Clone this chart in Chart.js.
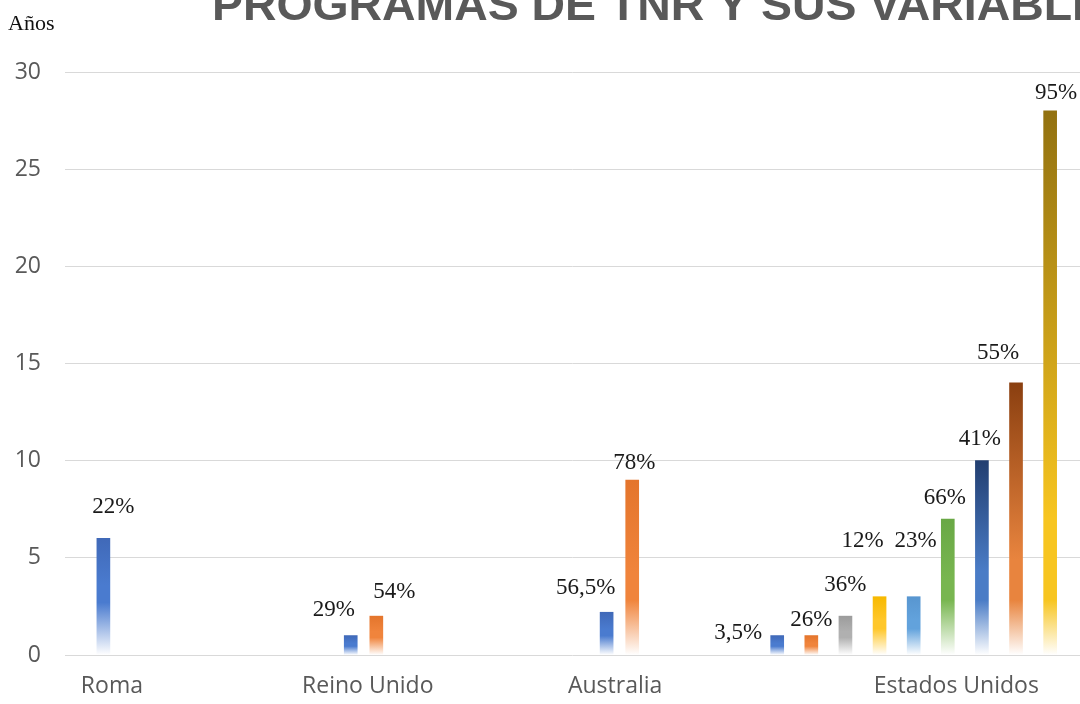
<!DOCTYPE html>
<html><head><meta charset="utf-8">
<script src="https://cdn.jsdelivr.net/npm/chart.js@4.4.0/dist/chart.umd.min.js"></script>
<style>html,body{margin:0;padding:0;background:#fff;overflow:hidden}#wrap{width:1080px;height:704px;position:relative}</style>
</head><body><div id="wrap"><canvas id="c" width="1080" height="704"></canvas></div>
<script>
// ---------- data ----------
const categories = ['Roma', 'Reino Unido', 'Australia', 'Estados Unidos'];
const romaYears = [6];
const romaPct = ['22%'];
const ukYears = [1, 2];
const ukPct = ['29%', '54%'];
const ausYears = [2.2, 9];
const ausPct = ['56,5%', '78%'];
const usYears = [1, 1, 2, 3, 3, 7, 10, 14, 28];
const usPct = ['3,5%', '26%', '36%', '12%', '23%', '66%', '41%', '55%', '95%'];
const yTicks = [0, 5, 10, 15, 20, 25, 30];
const yAxisTitle = 'Años';
const chartTitle = 'PROGRAMAS DE TNR Y SUS VARIABLES';

// ---------- styles / layout ----------
const seriesTop = ['#4069b8', '#e4752c', '#9c9c9c', '#f7b900', '#5896d0', '#69a845', '#223e70', '#8a3f10', '#927110'];
const seriesMid = ['#4a7bcf', '#f0843c', '#b0b0b0', '#ffc72a', '#62a2dc', '#78b650', '#4a7cc6', '#e8843e', '#f7c520'];
const slotCount = 119;
const groupLayout = [
  { first: 4, step: 3, label: 5 },
  { first: 33, step: 3, label: 35 },
  { first: 63, step: 3, label: 64 },
  { first: 83, step: 4, label: 104 }
];
const labelOffsets = [
  [[10, -31]],
  [[-17, -26], [18, -24]],
  [[-21, -24], [2, -17]],
  [[-39, -3], [0, -16], [0, -31], [-17, -56], [2, -56], [-3, -21], [-2, -22], [-18, -30], [6, -18]]
];

// ---------- build slots ----------
const groups = [
  { years: romaYears, pct: romaPct },
  { years: ukYears, pct: ukPct },
  { years: ausYears, pct: ausPct },
  { years: usYears, pct: usPct }
];
const slotLabels = new Array(slotCount).fill('');
const slotValues = new Array(slotCount).fill(null);
const slotSeries = new Array(slotCount).fill(0);
const slotPct = new Array(slotCount).fill('');
const slotOffset = new Array(slotCount).fill(null);
groups.forEach((g, gi) => {
  const lay = groupLayout[gi];
  slotLabels[lay.label] = categories[gi];
  g.years.forEach((v, i) => {
    const s = lay.first + i * lay.step;
    slotValues[s] = v;
    slotSeries[s] = i;
    slotPct[s] = g.pct[i];
    slotOffset[s] = labelOffsets[gi][i];
  });
});

function barGradient(ctx) {
  const chart = ctx.chart;
  const i = ctx.dataIndex;
  const si = slotSeries[i] || 0;
  const y = chart.scales.y;
  if (!y || slotValues[i] == null) return seriesTop[si];
  const top = y.getPixelForValue(slotValues[i]);
  const bot = y.getPixelForValue(0);
  const h = bot - top;
  if (!isFinite(top) || !isFinite(bot) || h < 1) return seriesTop[si];
  const fadeStart = Math.max(1 - 55 / h, 0.55);
  const midAt = Math.max(fadeStart - 0.15, 0.3);
  const g = chart.ctx.createLinearGradient(0, top, 0, bot);
  g.addColorStop(0, seriesTop[si]);
  g.addColorStop(midAt, seriesMid[si]);
  g.addColorStop(fadeStart, seriesMid[si]);
  g.addColorStop(1, 'rgba(255,255,255,1)');
  return g;
}

const decor = {
  id: 'decor',
  beforeDraw(chart) {
    const c = chart.ctx;
    c.save();
    c.fillStyle = '#ffffff';
    c.fillRect(0, 0, chart.width, chart.height);
    c.restore();
  },
  afterDraw(chart) {
    const c = chart.ctx;
    c.save();
    // title (cut at top and right as in the reference)
    c.font = 'bold 44px "Liberation Sans"';
    c.fillStyle = '#595959';
    c.textBaseline = 'alphabetic';
    c.textAlign = 'left';
    const partW = c.measureText('PROGRAMAS DE TNR Y SUS VARIABL').width;
    const sx = 860 / partW;
    c.translate(212, 20);
    c.scale(sx, 1);
    c.fillText(chartTitle, 0, 0);
    c.restore();
    // y axis title
    c.save();
    c.font = '22px "Liberation Serif"';
    c.fillStyle = '#111111';
    c.textBaseline = 'alphabetic';
    c.textAlign = 'left';
    c.fillText(yAxisTitle, 8, 30);
    c.restore();
    // data labels
    const meta = chart.getDatasetMeta(0);
    c.save();
    c.font = '23px "Liberation Serif"';
    c.fillStyle = '#1a1a1a';
    c.textAlign = 'center';
    c.textBaseline = 'middle';
    meta.data.forEach((el, i) => {
      if (slotValues[i] == null) return;
      const off = slotOffset[i];
      c.fillText(slotPct[i], el.x + off[0], el.y + off[1]);
    });
    c.restore();
  }
};

new Chart(document.getElementById('c'), {
  type: 'bar',
  data: {
    labels: slotLabels,
    datasets: [{
      data: slotValues,
      backgroundColor: barGradient,
      borderWidth: 0,
      barThickness: 13
    }]
  },
  options: {
    responsive: false,
    animation: false,
    layout: { padding: { top: 72, left: 0, right: 0, bottom: 0 } },
    plugins: { legend: { display: false }, tooltip: { enabled: false }, title: { display: false } },
    scales: {
      x: {
        type: 'category',
        offset: true,
        grid: { display: false, drawTicks: false },
        border: { display: false },
        afterFit(s) { s.height = 49; s.paddingRight = 0; s.paddingLeft = 0; },
        ticks: {
          autoSkip: false, maxRotation: 0, minRotation: 0, padding: 18,
          color: '#595959',
          font: { family: '"Open Sans"', size: 23 },
          callback(v, i) { return slotLabels[i]; }
        }
      },
      y: {
        min: 0, max: 30,
        afterBuildTicks(s) { s.ticks = yTicks.map(v => ({ value: v })); },
        afterFit(s) { s.width = 65; },
        grid: { color: '#d9d9d9', lineWidth: 1, drawTicks: false },
        border: { display: false },
        ticks: {
          padding: 24,
          color: '#595959',
          font: { family: '"Open Sans"', size: 23 }
        }
      }
    }
  },
  plugins: [decor]
});
</script></body></html>
